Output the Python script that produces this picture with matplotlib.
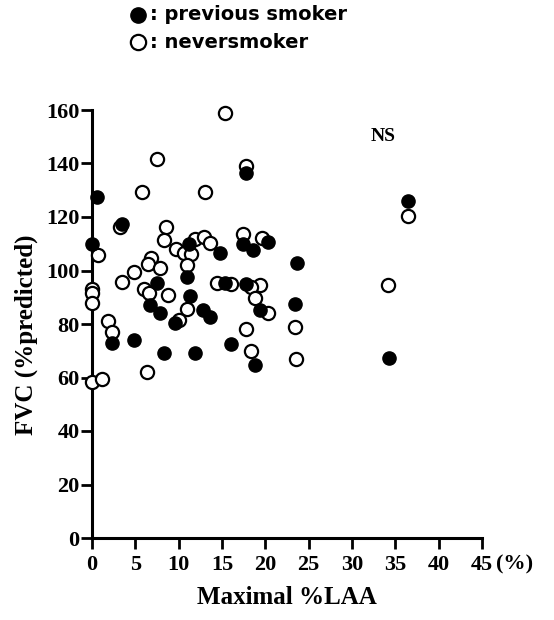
import matplotlib
matplotlib.use("Agg")
import matplotlib.pyplot as plt

# Maximal %LAA vs FVC (%predicted)
prev_laa = [0.6, 0.0, 3.5, 17.8, 11.2, 14.8, 11.0, 17.4, 18.6, 20.3, 7.5, 15.4, 17.8,
            11.3, 6.7, 7.9, 12.8, 13.6, 9.6, 2.3, 4.9, 8.3, 11.9, 16.0, 18.8, 19.4,
            23.6, 23.4, 36.5, 34.3]
prev_fvc = [127.5, 110, 117.5, 136.6, 110, 106.7, 97.5, 110, 107.7, 110.8, 95.2, 95.2, 95,
            90.5, 87.0, 84, 85.2, 82.7, 80.3, 73, 74, 69.3, 69.3, 72.5, 64.7, 85.2,
            102.7, 87.4, 126, 67.2]

never_laa = [15.3, 7.5, 17.8, 5.8, 13.0, 3.2, 8.5, 0.7, 8.3, 9.7, 11.9, 12.9, 13.6, 10.6,
             11.4, 11.0, 17.4, 19.6, 6.75, 6.5, 7.9, 4.8, 3.5, 6.0, 6.6, 8.8, 14.4, 16.0,
             19.4, 18.4, 18.8, 0.0, 0.0, 0.0, 11.0, 10.0, 1.9, 2.3, 6.4, 0.0, 1.1, 17.8,
             18.4, 20.3, 36.5, 34.2, 23.4, 23.5]
never_fvc = [159, 141.8, 139, 129.5, 129.5, 116.4, 116.4, 105.8, 111.4, 108, 111.8, 112.6,
             110.2, 106.4, 106.2, 102, 113.6, 112, 104.6, 102.4, 100.8, 99.6, 95.8, 93,
             91.7, 91, 95.5, 94.8, 94.6, 94, 89.6, 93, 91.5, 87.7, 85.5, 81.5, 81.2, 77.1,
             62, 58.4, 59.6, 78, 70, 84, 120.4, 94.4, 79, 66.9]

x_ticks = [0, 5, 10, 15, 20, 25, 30, 35, 40, 45]
y_ticks = [0, 20, 40, 60, 80, 100, 120, 140, 160]

serif = 'Liberation Serif'
sans = 'DejaVu Sans'

fig = plt.figure(figsize=(5.54, 6.2), dpi=100)
ax = fig.add_axes([92 / 554, 1 - 538 / 620, 390 / 554, 428 / 620])

ax.plot(never_laa, never_fvc, 'o', ms=9.5, mfc='white', mec='black', mew=1.6,
        clip_on=False, zorder=3)
ax.plot(prev_laa, prev_fvc, 'o', ms=9.5, mfc='black', mec='black', mew=1.0,
        clip_on=False, zorder=4)

ax.set_xlim(0, 45)
ax.set_ylim(0, 160)
ax.set_xticks(x_ticks)
ax.set_yticks(y_ticks)
for s in ['top', 'right']:
    ax.spines[s].set_visible(False)
for s in ['left', 'bottom']:
    ax.spines[s].set_linewidth(2.2)
ax.tick_params(axis='x', width=2.0, length=8, pad=4, direction='out')
ax.tick_params(axis='y', width=2.0, length=8, pad=1, direction='out')
for lab in ax.get_xticklabels() + ax.get_yticklabels():
    lab.set_fontfamily(serif)
    lab.set_fontweight('bold')
    lab.set_fontsize(16)

ax.text(33.6, 150, 'NS', fontfamily=serif, fontweight='bold', fontsize=14,
        ha='center', va='center')

fig.text(515 / 554, 1 - 564 / 620, '(%)', fontfamily=serif, fontweight='bold',
         fontsize=16, ha='center', va='center')
fig.text(287 / 554, 1 - 598 / 620, 'Maximal %LAA', fontfamily=serif, fontweight='bold',
         fontsize=18, ha='center', va='center')
fig.text(26 / 554, 1 - 335 / 620, 'FVC (%predicted)', fontfamily=serif, fontweight='bold',
         fontsize=18, ha='center', va='center', rotation=90)

# legenda no topo
fig.lines.append(plt.Line2D([138 / 554], [1 - 15 / 620], marker='o', ms=11,
                            mfc='black', mec='black', transform=fig.transFigure))
fig.lines.append(plt.Line2D([138 / 554], [1 - 42 / 620], marker='o', ms=11,
                            mfc='white', mec='black', mew=1.6, transform=fig.transFigure))
fig.text(150 / 554, 1 - 15 / 620, ': previous smoker', fontfamily=sans, fontweight='bold',
         fontsize=14, ha='left', va='center')
fig.text(150 / 554, 1 - 42 / 620, ': neversmoker', fontfamily=sans, fontweight='bold',
         fontsize=14, ha='left', va='center')

fig.savefig('out.png', dpi=100)
